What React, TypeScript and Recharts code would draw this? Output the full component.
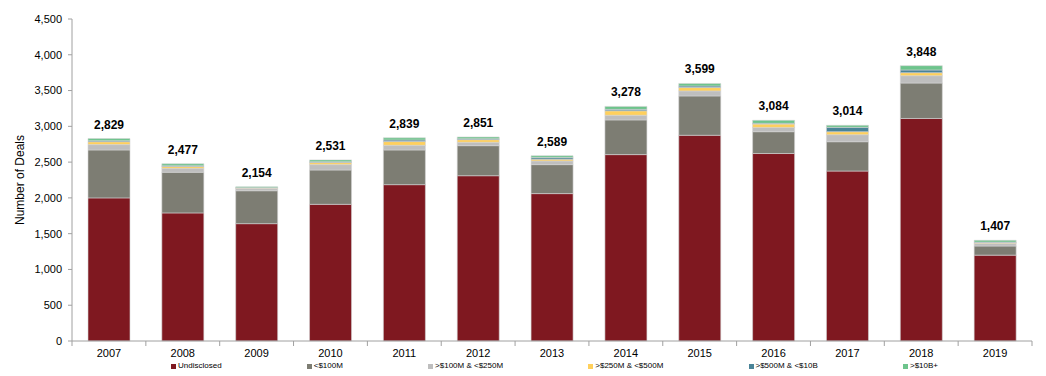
import React from "react";
import { BarChart, Bar, XAxis, YAxis, Legend, LabelList } from "recharts";

const years = ["2007", "2008", "2009", "2010", "2011", "2012", "2013", "2014", "2015", "2016", "2017", "2018", "2019"];
const undisclosed = [2000, 1790, 1640, 1910, 2185, 2310, 2060, 2605, 2875, 2620, 2375, 3110, 1200];
const under100 = [670, 568, 460, 480, 485, 420, 405, 485, 550, 305, 410, 495, 127];
const m100to250 = [75, 56, 30, 75, 65, 47, 52, 65, 70, 60, 98, 103, 37];
const m250to500 = [40, 26, 8, 28, 52, 37, 24, 62, 47, 47, 42, 42, 10];
const m500to10b = [14, 9, 4, 12, 22, 12, 22, 20, 22, 10, 61, 38, 8];
const over10b = [30, 28, 12, 26, 30, 25, 26, 41, 35, 42, 28, 60, 25];
const totals = [2829, 2477, 2154, 2531, 2839, 2851, 2589, 3278, 3599, 3084, 3014, 3848, 1407];
const yTicks = [0, 500, 1000, 1500, 2000, 2500, 3000, 3500, 4000, 4500];

const seriesNames = ["Undisclosed", "<$100M", ">$100M & <$250M", ">$250M & <$500M", ">$500M & <$10B", ">$10B+"];
const seriesKeys = ["undisclosed", "under100", "m100to250", "m250to500", "m500to10b", "over10b"];
const seriesColors = ["#7F1820", "#7D7D73", "#BEBEBE", "#FFD05C", "#4A8498", "#6DC48C"];

const data = years.map((y, i) => ({
  year: y,
  undisclosed: undisclosed[i],
  under100: under100[i],
  m100to250: m100to250[i],
  m250to500: m250to500[i],
  m500to10b: m500to10b[i],
  over10b: over10b[i],
  total: totals[i],
}));

const FONT = "'Liberation Sans', Arial, sans-serif";
const AXIS_COLOR = "#a0a0a0";

const XTick = (props: any) => {
  const { x, y, payload, index } = props;
  const off = payload && payload.offset ? payload.offset : 36.9;
  const axisY = y - 7;
  return (
    <g>
      <line x1={x - off} y1={axisY} x2={x - off} y2={axisY + 5} stroke={AXIS_COLOR} strokeWidth={1} />
      {index === years.length - 1 && (
        <line x1={x + off} y1={axisY} x2={x + off} y2={axisY + 5} stroke={AXIS_COLOR} strokeWidth={1} />
      )}
      <text x={x} y={y} dy={9} textAnchor="middle" fontSize={11} fontFamily={FONT} fill="#000">
        {payload.value}
      </text>
    </g>
  );
};

const LegendContent = () => (
  <div
    style={{
      display: "flex",
      justifyContent: "space-between",
      marginLeft: 171,
      width: 767,
      fontFamily: FONT,
      fontSize: 8,
      color: "#000",
      lineHeight: "10px",
    }}
  >
    {seriesNames.map((n, i) => (
      <div key={n} style={{ display: "flex", alignItems: "center", whiteSpace: "nowrap" }}>
        <span style={{ display: "inline-block", width: 5, height: 5, background: seriesColors[i], marginRight: 2 }} />
        <span>{n}</span>
      </div>
    ))}
  </div>
);

export default function App() {
  return (
    <div style={{ position: "absolute", left: 0, top: 0, width: 1046, height: 376, background: "#fff" }}>
      <BarChart
        width={1046}
        height={376}
        data={data}
        margin={{ top: 19, right: 14, left: 0, bottom: 6 }}
        barSize={42}
      >
        <XAxis
          dataKey="year"
          height={20}
          tickSize={5}
          tickMargin={2}
          tickLine={false}
          axisLine={{ stroke: AXIS_COLOR }}
          tick={<XTick />}
          interval={0}
        />
        <YAxis
          width={72}
          domain={[0, 4500]}
          ticks={yTicks}
          interval={0}
          tickSize={4}
          tickMargin={6}
          axisLine={{ stroke: AXIS_COLOR }}
          tickLine={{ stroke: AXIS_COLOR }}
          tick={{ fontSize: 11, fontFamily: FONT, fill: "#000" }}
          tickFormatter={(v: number) => v.toLocaleString("en-US")}
          label={{
            value: "Number of Deals",
            angle: -90,
            position: "insideLeft",
            offset: 20,
            style: { fontSize: 12, fontFamily: FONT, fill: "#000", textAnchor: "middle" },
          }}
        />
        <Legend
          verticalAlign="bottom"
          height={9}
          content={<LegendContent />}
          wrapperStyle={{ left: 0, width: 1046 }}
        />
        {seriesKeys.map((k, i) => (
          <Bar
            key={k}
            dataKey={k}
            name={seriesNames[i]}
            stackId="a"
            fill={seriesColors[i]}
            stroke="#d4d4d4"
            strokeWidth={0.6}
            isAnimationActive={false}
          >
            {i === seriesKeys.length - 1 && (
              <LabelList
                dataKey="total"
                position="top"
                offset={10}
                formatter={(v: any) => Number(v).toLocaleString("en-US")}
                style={{ fontSize: 12, fontWeight: "bold", fontFamily: FONT, fill: "#000" }}
              />
            )}
          </Bar>
        ))}
      </BarChart>
    </div>
  );
}
